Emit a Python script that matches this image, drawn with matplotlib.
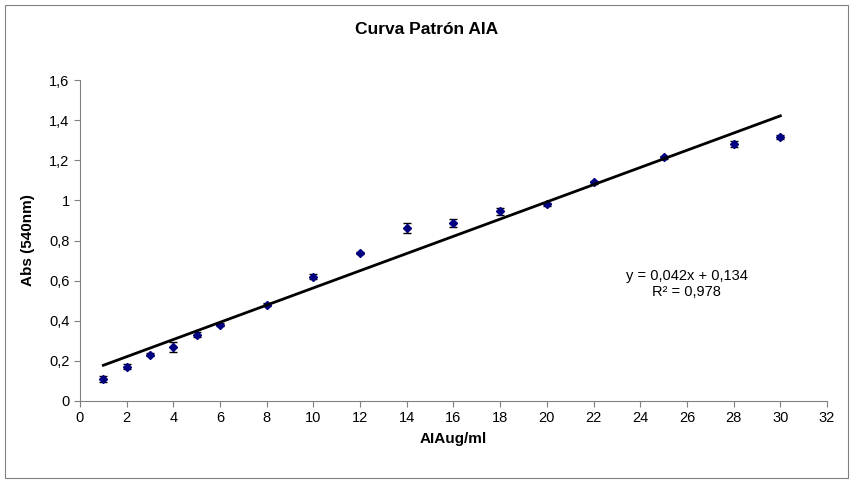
import matplotlib

matplotlib.use("Agg")
import matplotlib.pyplot as plt
import numpy as np
from matplotlib.patches import Rectangle
from matplotlib.ticker import FuncFormatter

# AIA standard curve data
conc = [1, 2, 3, 4, 5, 6, 8, 10, 12, 14, 16, 18, 20, 22, 25, 28, 30]
absorb = [0.11, 0.17, 0.23, 0.27, 0.33, 0.38, 0.48, 0.62, 0.74, 0.86, 0.885,
          0.945, 0.98, 1.09, 1.215, 1.28, 1.315]
err = [0.015, 0.012, 0.008, 0.025, 0.012, 0.008, 0.006, 0.012, 0.005, 0.025,
       0.02, 0.018, 0.007, 0.008, 0.008, 0.015, 0.01]
eq_text = "y = 0,042x + 0,134\nR² = 0,978"

plt.rcParams["font.family"] = ["Liberation Sans", "DejaVu Sans"]

fig = plt.figure(figsize=(8.53, 4.83), dpi=100)
ax = fig.add_axes([80 / 853, 1 - 401 / 483, 747 / 853, 321 / 483])

fig.patches.append(Rectangle((5 / 853, 5 / 483), 843 / 853, 473 / 483,
                             transform=fig.transFigure, fill=False,
                             edgecolor="#808080", linewidth=0.8))

ax.errorbar(conc, absorb, yerr=err, fmt="none", ecolor="black",
            elinewidth=1.0, capsize=3, capthick=1.0, zorder=2)
ax.plot(conc, absorb, "D", color="#000080", markersize=4.5, zorder=3)

# linear trendline fitted to the data
slope, intercept = np.polyfit(conc, absorb, 1)
x_fit = np.array([conc[0], conc[-1]])
ax.plot(x_fit, slope * x_fit + intercept, color="black", linewidth=2.0,
        zorder=4)

ax.set_xlim(0, 32)
ax.set_ylim(0, 1.6)
ax.set_xticks(range(0, 33, 2))
ax.set_yticks(np.arange(0, 1.61, 0.2))


def comma(v, pos):
    s = f"{v:.1f}".rstrip("0").rstrip(".")
    return s.replace(".", ",")


ax.yaxis.set_major_formatter(FuncFormatter(comma))
for side in ("top", "right"):
    ax.spines[side].set_visible(False)
for side in ("left", "bottom"):
    ax.spines[side].set_color("#808080")
ax.tick_params(direction="out", length=4, color="#808080", labelsize=10.5,
               labelcolor="black")

ax.set_xlabel("AIAug/ml", fontsize=11, fontweight="bold", labelpad=5)
ax.set_ylabel("Abs (540nm)", fontsize=11, fontweight="bold", labelpad=10)
fig.text(0.5, 1 - 30 / 483, "Curva Patrón AIA", ha="center", va="center",
         fontsize=12.5, fontweight="bold")

ax.text(26.0, 0.66, eq_text, ha="center", va="top", fontsize=10.5,
        linespacing=1.25)

fig.savefig("out.png", dpi=100)
